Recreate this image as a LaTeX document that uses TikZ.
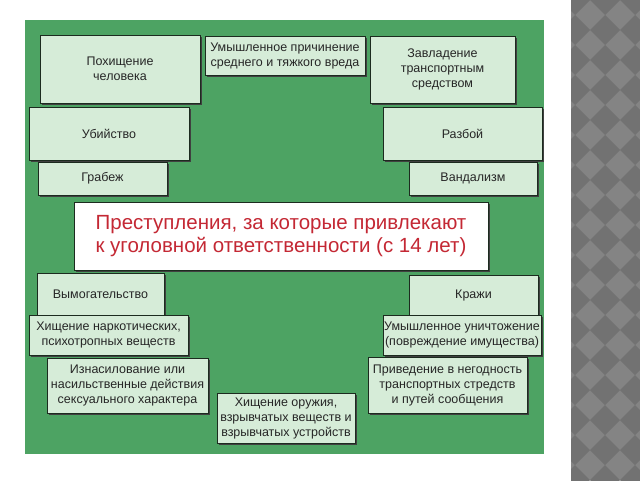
\documentclass[tikz,border=0pt]{standalone}
\usepackage{fontspec}
\setmainfont{Liberation Sans}
\usepackage{tikz}
\usetikzlibrary{shadows}

\definecolor{fongreen}{RGB}{77,163,99}
\definecolor{boxgreen}{RGB}{214,236,216}
\definecolor{boxline}{RGB}{28,43,31}
\definecolor{titlered}{RGB}{196,40,52}
\definecolor{stripgray}{RGB}{132,132,132}
\definecolor{stripdark}{RGB}{114,114,114}

\tikzset{
  crime/.style={draw=boxline, fill=boxgreen, line width=0.9pt, inner sep=0pt,
    align=center, text=black!85,
    font=\fontsize{12.5}{15}\selectfont,
    drop shadow={shadow xshift=1.6pt, shadow yshift=-1.6pt, fill=black!75, opacity=1}},
  titlebox/.style={draw=boxline, fill=white, line width=0.9pt, inner sep=0pt,
    align=center, text=titlered,
    font=\fontsize{20.5}{23.5}\selectfont,
    drop shadow={shadow xshift=1.6pt, shadow yshift=-1.6pt, fill=black!75, opacity=1}}
}

\begin{document}
\begin{tikzpicture}[x=1pt, y=-1pt]

            \useasboundingbox (0,0) rectangle (640,480);
            \fill[white] (0,0) rectangle (640,480);

            % серая полоса справа
            \fill[stripgray] (571,0) rectangle (640,480);
            \begin{scope}
              \clip (571,0) rectangle (640,480);
              \foreach \i in {0,...,3} {
                \foreach \j in {0,...,16} {
                  \fill[stripdark] (575+\i*30,\j*30-15) -- ++(15,15) -- ++(-15,15) -- ++(-15,-15) -- cycle;
                }
              }
            \end{scope}

            % зелёный фон
            \fill[fongreen] (25,20) rectangle (544,454);

            % верхние блоки
            \node[crime, minimum width=160pt, minimum height=68pt] (pohishch) at (120,69) {Похищение\\человека};
            \node[crime, minimum width=160pt, minimum height=39pt] (vred) at (285,55.5) {Умышленное причинение\\среднего и тяжкого вреда};
            \node[crime, minimum width=145pt, minimum height=67pt] (zavlad) at (442.5,69.5) {Завладение\\транспортным\\средством};

            \node[crime, minimum width=160pt, minimum height=53pt] (ubiystvo) at (109,133.5) {Убийство};
            \node[crime, minimum width=159pt, minimum height=53pt] (razboy) at (462.5,133.5) {Разбой};

            \node[crime, minimum width=129pt, minimum height=33pt] (grabezh) at (102.5,178.5) {Грабеж};
            \node[crime, minimum width=128pt, minimum height=33pt] (vandalizm) at (473,178.5) {Вандализм};

            % заголовок
            \node[titlebox, minimum width=414pt, minimum height=68pt] (zagolovok) at (281,236)
              {Преступления, за которые привлекают\\к уголовной ответственности (с 14 лет)};

            % нижние блоки
            \node[crime, minimum width=127pt, minimum height=42pt] (vymog) at (100.5,294) {Вымогательство};
            \node[crime, minimum width=129pt, minimum height=41pt] (krazhi) at (473.5,295.5) {Кражи};

            \node[crime, minimum width=159pt, minimum height=40pt] (narkotiki) at (108.5,335) {Хищение наркотических,\\психотропных веществ};
            \node[crime, minimum width=158pt, minimum height=40pt] (unichtozh) at (462,335) {Умышленное уничтожение\\(повреждение имущества)};

            \node[crime, minimum width=161pt, minimum height=55pt] (iznasil) at (127.5,385.5) {Изнасилование или\\насильственные действия\\сексуального характера};
            \node[crime, minimum width=159pt, minimum height=56pt] (negodnost) at (447.5,385) {Приведение в негодность\\транспортных стредств\\и путей сообщения};

            \node[crime, minimum width=138pt, minimum height=50pt] (oruzhie) at (286,418) {Хищение оружия,\\взрывчатых веществ и\\взрывчатых устройств};

\end{tikzpicture}
\end{document}
